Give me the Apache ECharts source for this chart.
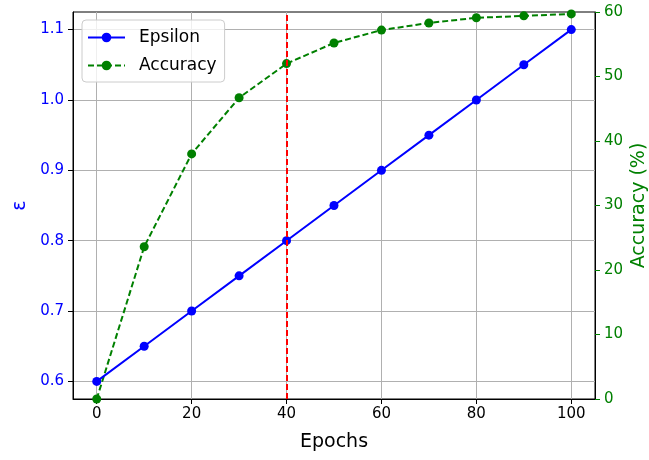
<!DOCTYPE html>
<html>
<head>
<meta charset="utf-8">
<script src="https://cdn.jsdelivr.net/npm/echarts@6/dist/echarts.min.js"></script>
<style>html,body{margin:0;padding:0;background:#fff;}#c{width:649px;height:460px;}</style>
</head>
<body>
<div id="c"></div>
<script>
const epochs = [0, 10, 20, 30, 40, 50, 60, 70, 80, 90, 100];
const epsilon = [0.60, 0.65, 0.70, 0.75, 0.80, 0.85, 0.90, 0.95, 1.00, 1.05, 1.10];
const accuracy = [0.0, 23.6, 38.0, 46.7, 52.0, 55.2, 57.2, 58.3, 59.1, 59.4, 59.7];
const xTicks = [0, 20, 40, 60, 80, 100];
const epsTicks = [0.6, 0.7, 0.8, 0.9, 1.0, 1.1];
const accTicks = [0, 10, 20, 30, 40, 50, 60];
const markerEpoch = 40;

const FONT = 'DejaVu Sans';
const chart = echarts.init(document.getElementById('c'), null, {renderer: 'canvas'});
const gridColor = '#b0b0b0';

const option = {
  animation: false,
  backgroundColor: '#fff',
  grid: {left: 73, right: 54, top: 12, bottom: 61, show: true, borderColor: '#000', borderWidth: 1,
    backgroundColor: 'transparent', containLabel: false, outerBoundsMode: 'none'},
  legend: {
    orient: 'vertical', left: 82, top: 20,
    data: ['Epsilon', 'Accuracy'],
    itemWidth: 37, itemHeight: 12, itemGap: 11,
    padding: [9, 8, 8, 5],
    backgroundColor: 'rgba(255,255,255,0.8)',
    borderColor: '#cccccc', borderWidth: 1, borderRadius: 4,
    textStyle: {fontFamily: FONT, fontSize: 17, color: '#000', padding: [0, 0, 0, 9]}
  },
  xAxis: {
    type: 'value', min: -5, max: 105,
    name: 'Epochs', nameLocation: 'middle', nameGap: 34, nameMoveOverlap: false,
    nameTextStyle: {fontFamily: FONT, fontSize: 19, color: '#000'},
    axisLine: {show: true, onZero: false, lineStyle: {color: '#000', width: 1}},
    axisTick: {show: true, length: 5, customValues: xTicks, lineStyle: {color: '#000'}},
    axisLabel: {customValues: xTicks, fontFamily: FONT, fontSize: 15, color: '#000', margin: 8},
    splitLine: {show: true, lineStyle: {color: gridColor, width: 1}}
  },
  yAxis: [
    {
      type: 'value', min: 0.575, max: 1.125, position: 'left',
      name: 'ε', nameLocation: 'middle', nameGap: 43, nameMoveOverlap: false,
      nameTextStyle: {fontFamily: FONT, fontSize: 19, color: '#0000ff'},
      axisLine: {show: true, onZero: false, lineStyle: {color: '#000'}},
      axisTick: {show: true, length: 5, customValues: epsTicks, lineStyle: {color: '#000'}},
      axisLabel: {customValues: epsTicks, fontFamily: FONT, fontSize: 15, color: '#0000ff', margin: 9,
        formatter: v => v.toFixed(1)},
      splitLine: {show: true, lineStyle: {color: gridColor, width: 1}}
    },
    {
      type: 'value', min: 0, max: 60, interval: 10, position: 'right',
      name: 'Accuracy (%)', nameLocation: 'middle', nameGap: 35, nameMoveOverlap: false,
      nameTextStyle: {fontFamily: FONT, fontSize: 19, color: '#008000'},
      axisLine: {show: true, onZero: false, lineStyle: {color: '#000'}},
      axisTick: {show: true, length: 5, customValues: accTicks, lineStyle: {color: '#008000'}},
      axisLabel: {customValues: accTicks, fontFamily: FONT, fontSize: 15, color: '#008000', margin: 9},
      splitLine: {show: false}
    }
  ],
  series: [
    {
      name: 'Accuracy', type: 'line', yAxisIndex: 1,
      data: epochs.map((e, i) => [e, accuracy[i]]),
      symbol: 'circle', symbolSize: 9,
      lineStyle: {color: '#008000', width: 2, type: [6, 3]},
      itemStyle: {color: '#008000'},
      z: 2
    },
    {
      name: 'Epsilon', type: 'line', yAxisIndex: 0,
      data: epochs.map((e, i) => [e, epsilon[i]]),
      symbol: 'circle', symbolSize: 9,
      lineStyle: {color: '#0000ff', width: 2, type: 'solid'},
      itemStyle: {color: '#0000ff'},
      markLine: {
        silent: true, symbol: 'none', label: {show: false},
        lineStyle: {color: '#ff0000', width: 2, type: [6, 3]},
        data: [{xAxis: markerEpoch}]
      },
      z: 3
    }
  ]
};
chart.setOption(option);
</script>
</body>
</html>
